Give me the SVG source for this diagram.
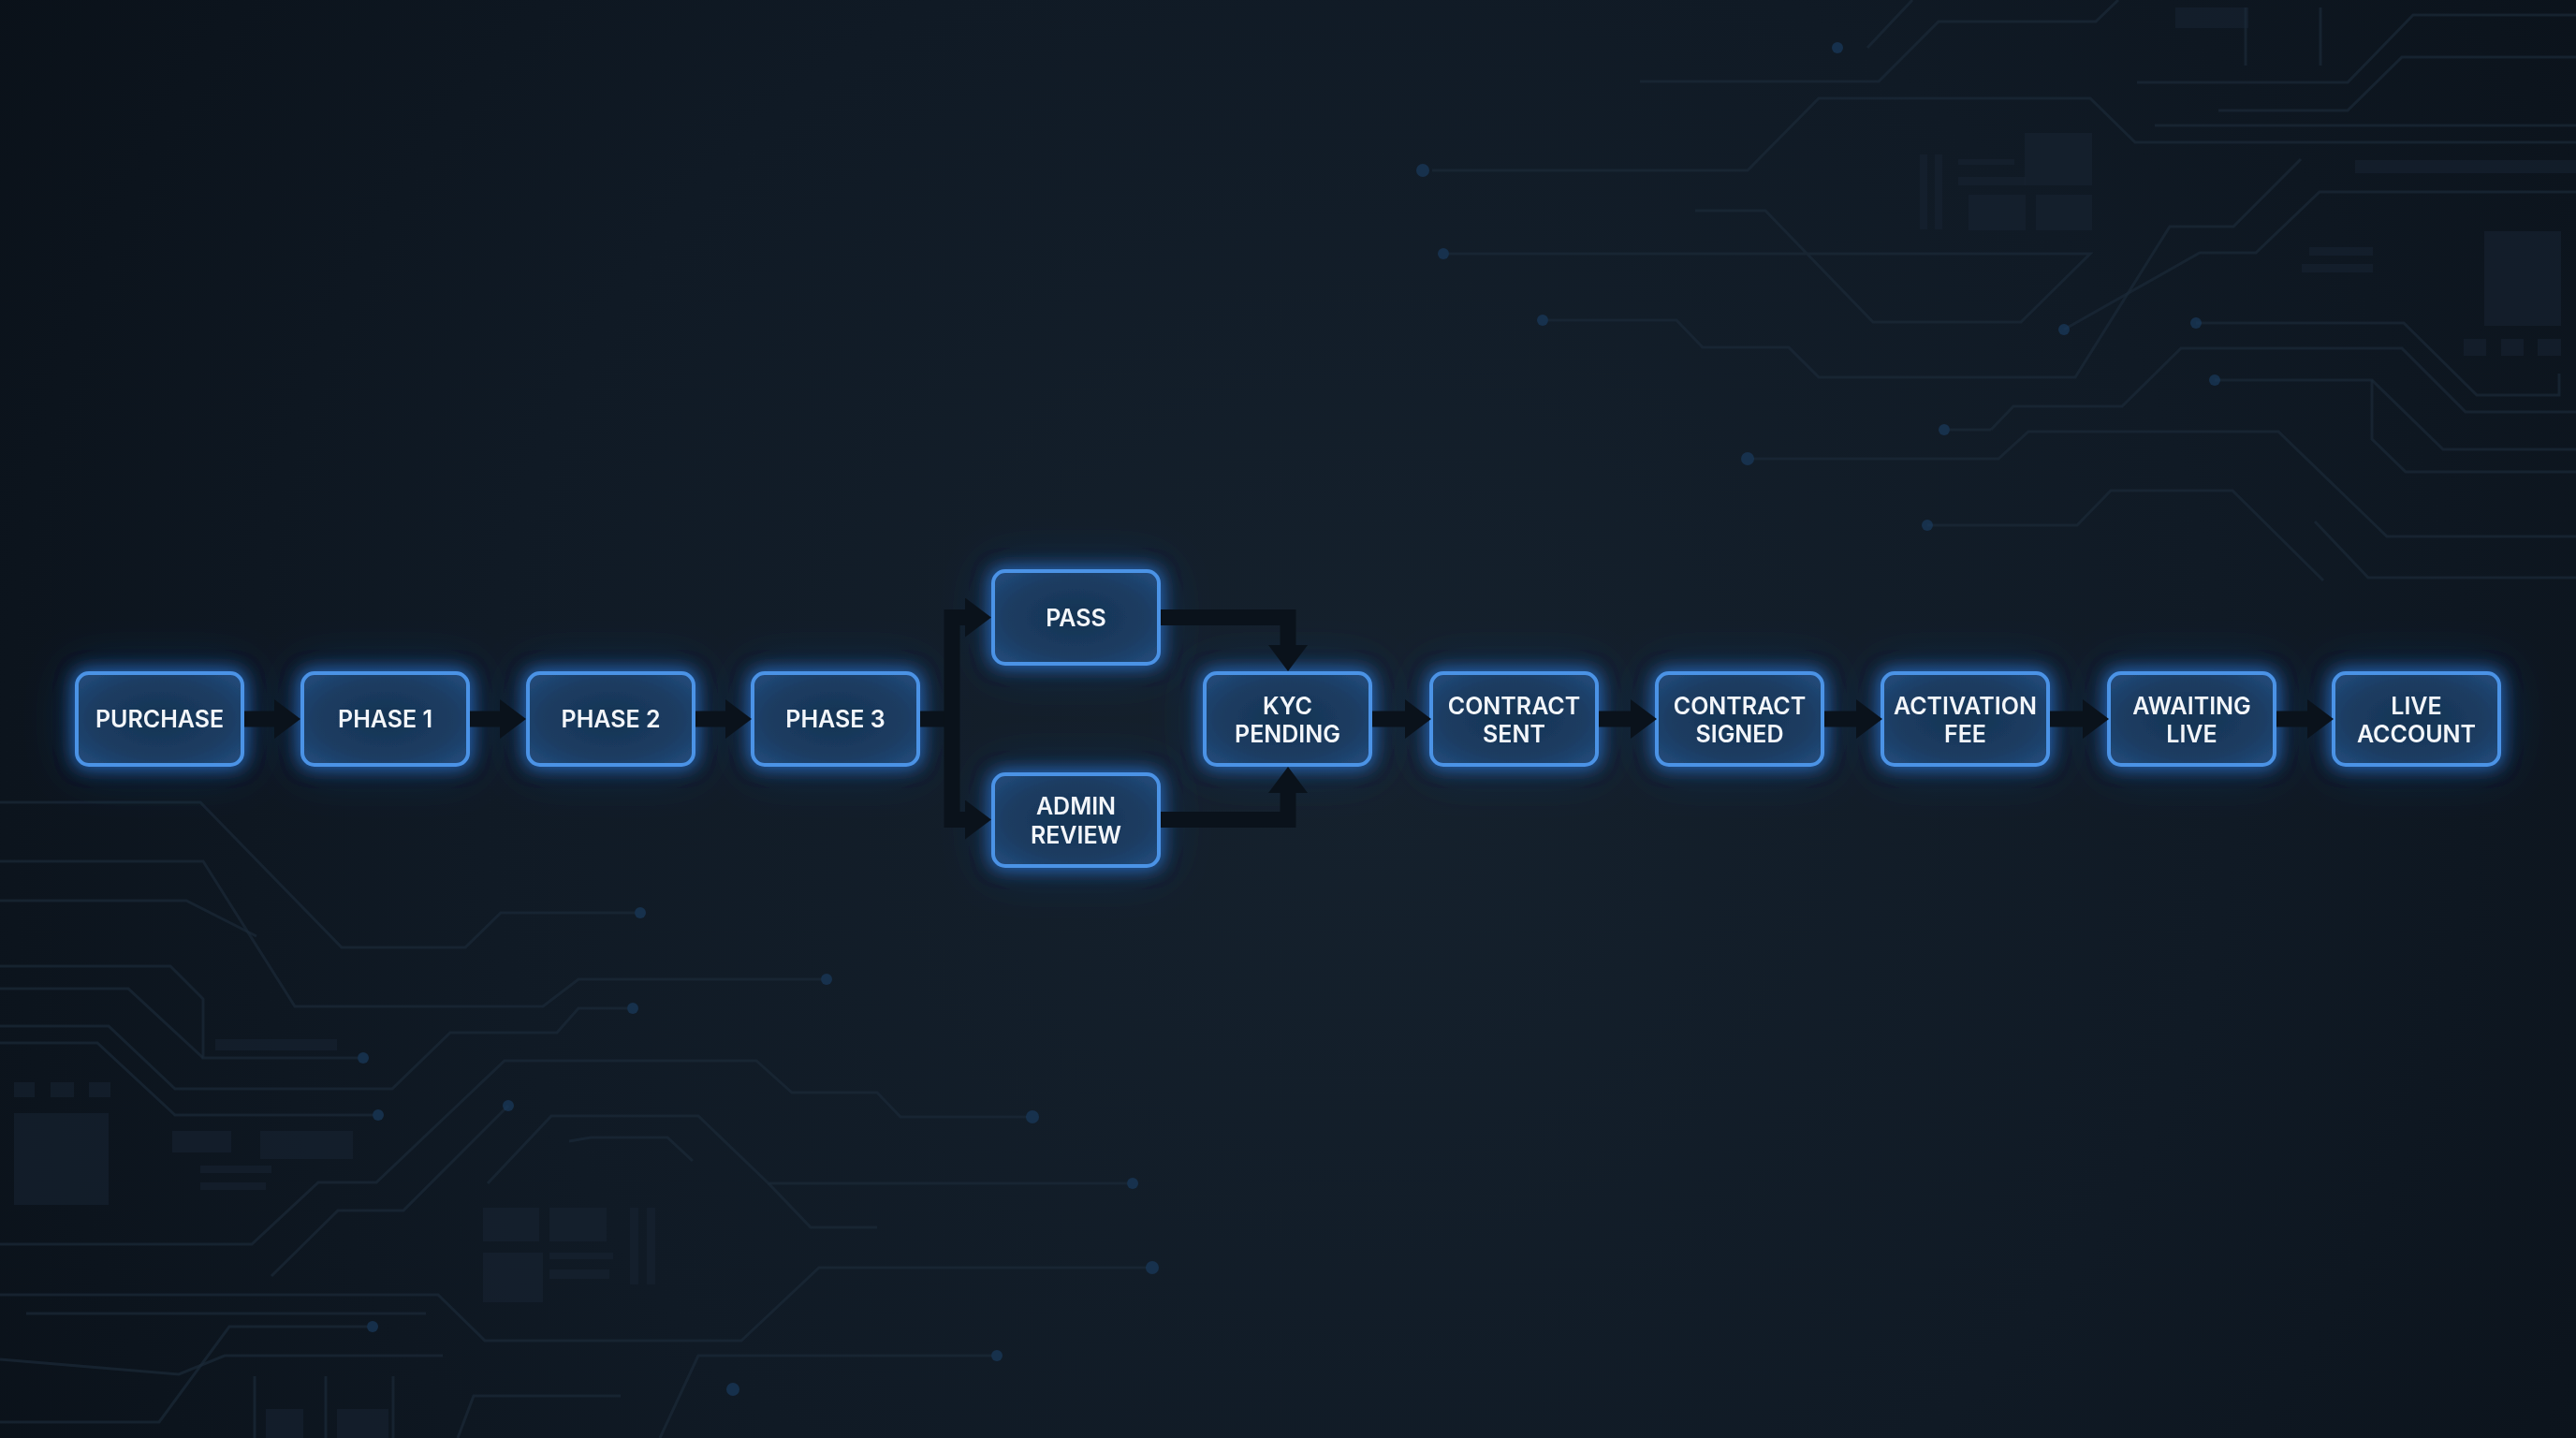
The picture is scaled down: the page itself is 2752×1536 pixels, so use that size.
<svg xmlns="http://www.w3.org/2000/svg" width="2752" height="1536" viewBox="0 0 2752 1536">
<defs>
  <radialGradient id="bg" cx="1450" cy="820" r="1700" gradientUnits="userSpaceOnUse">
    <stop offset="0" stop-color="#15212d"/>
    <stop offset="0.55" stop-color="#101a25"/>
    <stop offset="1" stop-color="#0a1119"/>
  </radialGradient>
  <radialGradient id="boxfill" cx="0.5" cy="0.5" r="0.7">
    <stop offset="0" stop-color="#173453"/>
    <stop offset="0.6" stop-color="#1b3c62"/>
    <stop offset="1" stop-color="#234d7f"/>
  </radialGradient>
  <filter id="glow" x="-40%" y="-60%" width="180%" height="220%">
    <feMorphology in="SourceAlpha" operator="dilate" radius="2" result="d"/>
    <feGaussianBlur in="d" stdDeviation="9" result="b1"/>
    <feFlood flood-color="#2f7fe6" flood-opacity="0.7"/>
    <feComposite in2="b1" operator="in" result="g1"/>
    <feGaussianBlur in="d" stdDeviation="26" result="b2"/>
    <feFlood flood-color="#1f5aa8" flood-opacity="0.35"/>
    <feComposite in2="b2" operator="in" result="g2"/>
    <feMerge>
      <feMergeNode in="g2"/>
      <feMergeNode in="g1"/>
      <feMergeNode in="SourceGraphic"/>
    </feMerge>
  </filter>
  <marker id="head" markerUnits="userSpaceOnUse" viewBox="0 0 28 42" markerWidth="28" markerHeight="42" refX="0" refY="21" orient="auto">
    <path d="M0,0 L28,21 L0,42 Z" fill="#0a121b"/>
  </marker>
  <style>
    .box { fill: url(#boxfill); stroke: #4b93e6; stroke-width: 4; }
    .lbl { font-family: Inter, "Noto Sans", "Liberation Sans", sans-serif; font-weight: 600; font-size: 25px; fill: #f3f6fa; text-anchor: middle; }
    .conn { fill: none; stroke: #0a121b; stroke-width: 17; stroke-linejoin: miter; stroke-linecap: butt; }
    .trace { fill: none; stroke: #1b2938; stroke-width: 3; opacity: 0.7; }
    .dot { fill: #1a3b5c; opacity: 0.7; }
    .chip { fill: #172332; opacity: 0.6; }
  </style>
</defs>

<rect x="0" y="0" width="2752" height="1536" fill="url(#bg)"/>

<g id="circuit-top-right">
  <polyline class="trace" points="1995,51 2043,0"/>
  <circle class="dot" cx="1963" cy="51" r="6"/>
  <polyline class="trace" points="1752,87 2007,87 2071,23 2239,23 2263,0"/>
  <polyline class="trace" points="1530,182 1867,182 1943,105 2233,105 2281,152 2752,152"/>
  <circle class="dot" cx="1520" cy="182" r="7"/>
  <polyline class="trace" points="2370,118 2508,118 2566,61 2752,61"/>
  <polyline class="trace" points="2283,88 2508,88 2578,16 2752,16"/>
  <polyline class="trace" points="2302,134 2752,134"/>
  <polyline class="trace" points="1548,271 2233,271 2159,344 2001,344 1886,225 1811,225"/>
  <circle class="dot" cx="1542" cy="271" r="6"/>
  <polyline class="trace" points="1654,342 1791,342 1819,371 1911,371 1943,403 2217,403 2318,242 2386,242 2458,170"/>
  <circle class="dot" cx="1648" cy="342" r="6"/>
  <polyline class="trace" points="2205,352 2350,270 2410,270 2478,205 2752,205"/>
  <circle class="dot" cx="2205" cy="352" r="6"/>
  <polyline class="trace" points="2346,345 2568,345 2646,422 2734,422 2734,399"/>
  <circle class="dot" cx="2346" cy="345" r="6"/>
  <polyline class="trace" points="2127,459 2151,434 2267,434 2330,372 2566,372 2634,440 2752,440"/>
  <circle class="dot" cx="2077" cy="459" r="6"/>
  <polyline class="trace" points="2083,459 2127,459"/>
  <polyline class="trace" points="2366,406 2534,406 2610,480 2752,480"/>
  <polyline class="trace" points="2534,406 2534,469 2570,504 2752,504"/>
  <circle class="dot" cx="2366" cy="406" r="6"/>
  <polyline class="trace" points="1873,490 2135,490 2167,461 2434,461 2550,573 2752,573"/>
  <circle class="dot" cx="1867" cy="490" r="7"/>
  <polyline class="trace" points="2059,561 2219,561 2255,524 2385,524 2482,620"/>
  <circle class="dot" cx="2059" cy="561" r="6"/>
  <polyline class="trace" points="2473,557 2530,617 2752,617"/>
  <rect class="chip" x="2051" y="165" width="8" height="80"/>
  <rect class="chip" x="2067" y="165" width="8" height="80"/>
  <rect class="chip" x="2103" y="208" width="61" height="38"/>
  <rect class="chip" x="2175" y="208" width="60" height="38"/>
  <rect class="chip" x="2163" y="142" width="72" height="56"/>
  <rect class="chip" x="2092" y="189" width="72" height="9"/>
  <rect class="chip" x="2092" y="170" width="60" height="6"/>
  <rect class="chip" x="2654" y="247" width="82" height="101"/>
  <rect class="chip" x="2632" y="362" width="24" height="18"/>
  <rect class="chip" x="2672" y="362" width="24" height="18"/>
  <rect class="chip" x="2711" y="362" width="25" height="18"/>
  <rect class="chip" x="2516" y="171" width="236" height="14"/>
  <rect class="chip" x="2467" y="264" width="68" height="9"/>
  <rect class="chip" x="2459" y="282" width="76" height="9"/>
  <rect class="chip" x="2324" y="8" width="78" height="22" opacity="0.5"/>
  <line class="trace" x1="2399" y1="8" x2="2399" y2="70"/>
  <line class="trace" x1="2479" y1="8" x2="2479" y2="70"/>
</g>

<g id="circuit-bottom-left">
  <polyline class="trace" points="0,857 214,857 365,1012 497,1012 535,975 678,975"/>
  <circle class="dot" cx="684" cy="975" r="6"/>
  <polyline class="trace" points="0,920 217,920 315,1075 580,1075 618,1046 877,1046"/>
  <circle class="dot" cx="883" cy="1046" r="6"/>
  <polyline class="trace" points="0,962 199,962 274,1000"/>
  <polyline class="trace" points="0,1032 182,1032 217,1067 217,1130 382,1130"/>
  <circle class="dot" cx="388" cy="1130" r="6"/>
  <polyline class="trace" points="0,1056 137,1056 217,1130"/>
  <polyline class="trace" points="0,1096 116,1096 187,1163 419,1163 481,1103 595,1103 618,1077 670,1077"/>
  <circle class="dot" cx="676" cy="1077" r="6"/>
  <polyline class="trace" points="0,1114 104,1114 187,1191 398,1191"/>
  <circle class="dot" cx="404" cy="1191" r="6"/>
  <polyline class="trace" points="0,1329 269,1329 340,1263 402,1263 539,1133 808,1133 846,1167 937,1167 962,1193 1097,1193"/>
  <circle class="dot" cx="1103" cy="1193" r="7"/>
  <polyline class="trace" points="290,1363 361,1293 431,1293 543,1181"/>
  <circle class="dot" cx="543" cy="1181" r="6"/>
  <polyline class="trace" points="521,1264 589,1192 746,1192 821,1264 1204,1264"/>
  <circle class="dot" cx="1210" cy="1264" r="6"/>
  <polyline class="trace" points="821,1264 866,1311 937,1311"/>
  <polyline class="trace" points="608,1219 631,1215 713,1215 740,1240"/>
  <polyline class="trace" points="0,1383 468,1383 518,1432 792,1432 875,1354 1225,1354"/>
  <circle class="dot" cx="1231" cy="1354" r="7"/>
  <polyline class="trace" points="28,1403 455,1403"/>
  <polyline class="trace" points="0,1519 170,1519 245,1417 392,1417"/>
  <circle class="dot" cx="398" cy="1417" r="6"/>
  <polyline class="trace" points="0,1452 191,1468 240,1448 473,1448"/>
  <polyline class="trace" points="705,1536 746,1448 1059,1448"/>
  <circle class="dot" cx="1065" cy="1448" r="6"/>
  <polyline class="trace" points="489,1536 506,1491 663,1491"/>
  <circle class="dot" cx="783" cy="1484" r="7"/>
  <rect class="chip" x="15" y="1189" width="101" height="98"/>
  <rect class="chip" x="15" y="1156" width="22" height="16"/>
  <rect class="chip" x="54" y="1156" width="25" height="16"/>
  <rect class="chip" x="95" y="1156" width="23" height="16"/>
  <rect class="chip" x="184" y="1208" width="63" height="23"/>
  <rect class="chip" x="278" y="1208" width="99" height="30"/>
  <rect class="chip" x="214" y="1245" width="76" height="8"/>
  <rect class="chip" x="214" y="1263" width="70" height="8"/>
  <rect class="chip" x="516" y="1290" width="60" height="36"/>
  <rect class="chip" x="587" y="1290" width="61" height="36"/>
  <rect class="chip" x="516" y="1338" width="64" height="53"/>
  <rect class="chip" x="587" y="1338" width="68" height="7"/>
  <rect class="chip" x="587" y="1356" width="64" height="10"/>
  <rect class="chip" x="673" y="1290" width="9" height="82"/>
  <rect class="chip" x="691" y="1290" width="9" height="82"/>
  <rect class="chip" x="230" y="1110" width="130" height="12" opacity="0.4"/>
  <line class="trace" x1="272" y1="1470" x2="272" y2="1536"/>
  <line class="trace" x1="348" y1="1470" x2="348" y2="1536"/>
  <line class="trace" x1="420" y1="1470" x2="420" y2="1536"/>
  <rect class="chip" x="284" y="1505" width="40" height="31" opacity="0.5"/>
  <rect class="chip" x="360" y="1505" width="55" height="31" opacity="0.5"/>
</g>

<g id="node-purchase" filter="url(#glow)">
  <rect class="box" x="82" y="719" width="177" height="98" rx="13"/>
  <text class="lbl" x="170.5" y="777">PURCHASE</text>
</g>
<g id="node-phase1" filter="url(#glow)">
  <rect class="box" x="323" y="719" width="177" height="98" rx="13"/>
  <text class="lbl" x="411.5" y="777">PHASE 1</text>
</g>
<g id="node-phase2" filter="url(#glow)">
  <rect class="box" x="564" y="719" width="177" height="98" rx="13"/>
  <text class="lbl" x="652.5" y="777">PHASE 2</text>
</g>
<g id="node-phase3" filter="url(#glow)">
  <rect class="box" x="804" y="719" width="177" height="98" rx="13"/>
  <text class="lbl" x="892.5" y="777">PHASE 3</text>
</g>
<g id="node-pass" filter="url(#glow)">
  <rect class="box" x="1061" y="610" width="177" height="99" rx="13"/>
  <text class="lbl" x="1149.5" y="669">PASS</text>
</g>
<g id="node-admin-review" filter="url(#glow)">
  <rect class="box" x="1061" y="827" width="177" height="98" rx="13"/>
  <text class="lbl" x="1149.5" y="870">ADMIN</text>
  <text class="lbl" x="1149.5" y="901">REVIEW</text>
</g>
<g id="node-kyc-pending" filter="url(#glow)">
  <rect class="box" x="1287" y="719" width="177" height="98" rx="13"/>
  <text class="lbl" x="1375.5" y="763">KYC</text>
  <text class="lbl" x="1375.5" y="793">PENDING</text>
</g>
<g id="node-contract-sent" filter="url(#glow)">
  <rect class="box" x="1529" y="719" width="177" height="98" rx="13"/>
  <text class="lbl" x="1617.5" y="763">CONTRACT</text>
  <text class="lbl" x="1617.5" y="793">SENT</text>
</g>
<g id="node-contract-signed" filter="url(#glow)">
  <rect class="box" x="1770" y="719" width="177" height="98" rx="13"/>
  <text class="lbl" x="1858.5" y="763">CONTRACT</text>
  <text class="lbl" x="1858.5" y="793">SIGNED</text>
</g>
<g id="node-activation-fee" filter="url(#glow)">
  <rect class="box" x="2011" y="719" width="177" height="98" rx="13"/>
  <text class="lbl" x="2099.5" y="763">ACTIVATION</text>
  <text class="lbl" x="2099.5" y="793">FEE</text>
</g>
<g id="node-awaiting-live" filter="url(#glow)">
  <rect class="box" x="2253" y="719" width="177" height="98" rx="13"/>
  <text class="lbl" x="2341.5" y="763">AWAITING</text>
  <text class="lbl" x="2341.5" y="793">LIVE</text>
</g>
<g id="node-live-account" filter="url(#glow)">
  <rect class="box" x="2493" y="719" width="177" height="98" rx="13"/>
  <text class="lbl" x="2581.5" y="763">LIVE</text>
  <text class="lbl" x="2581.5" y="793">ACCOUNT</text>
</g>

<g id="connectors">
  <polyline class="conn" points="261,768 293,768" marker-end="url(#head)"/>
  <polyline class="conn" points="502,768 534,768" marker-end="url(#head)"/>
  <polyline class="conn" points="743,768 775,768" marker-end="url(#head)"/>
  <polyline class="conn" points="983,768 1017,768"/>
  <polyline class="conn" points="1031,659.5 1017,659.5 1017,875.5 1031,875.5"/>
  <polyline class="conn" points="1017,659.5 1031,659.5" marker-end="url(#head)"/>
  <polyline class="conn" points="1017,875.5 1031,875.5" marker-end="url(#head)"/>
  <polyline class="conn" points="1240,659.5 1376,659.5 1376,689" marker-end="url(#head)"/>
  <polyline class="conn" points="1240,875.5 1376,875.5 1376,847" marker-end="url(#head)"/>
  <polyline class="conn" points="1466,768 1501,768" marker-end="url(#head)"/>
  <polyline class="conn" points="1708,768 1742,768" marker-end="url(#head)"/>
  <polyline class="conn" points="1949,768 1983,768" marker-end="url(#head)"/>
  <polyline class="conn" points="2190,768 2225,768" marker-end="url(#head)"/>
  <polyline class="conn" points="2432,768 2465,768" marker-end="url(#head)"/>
</g>
</svg>
